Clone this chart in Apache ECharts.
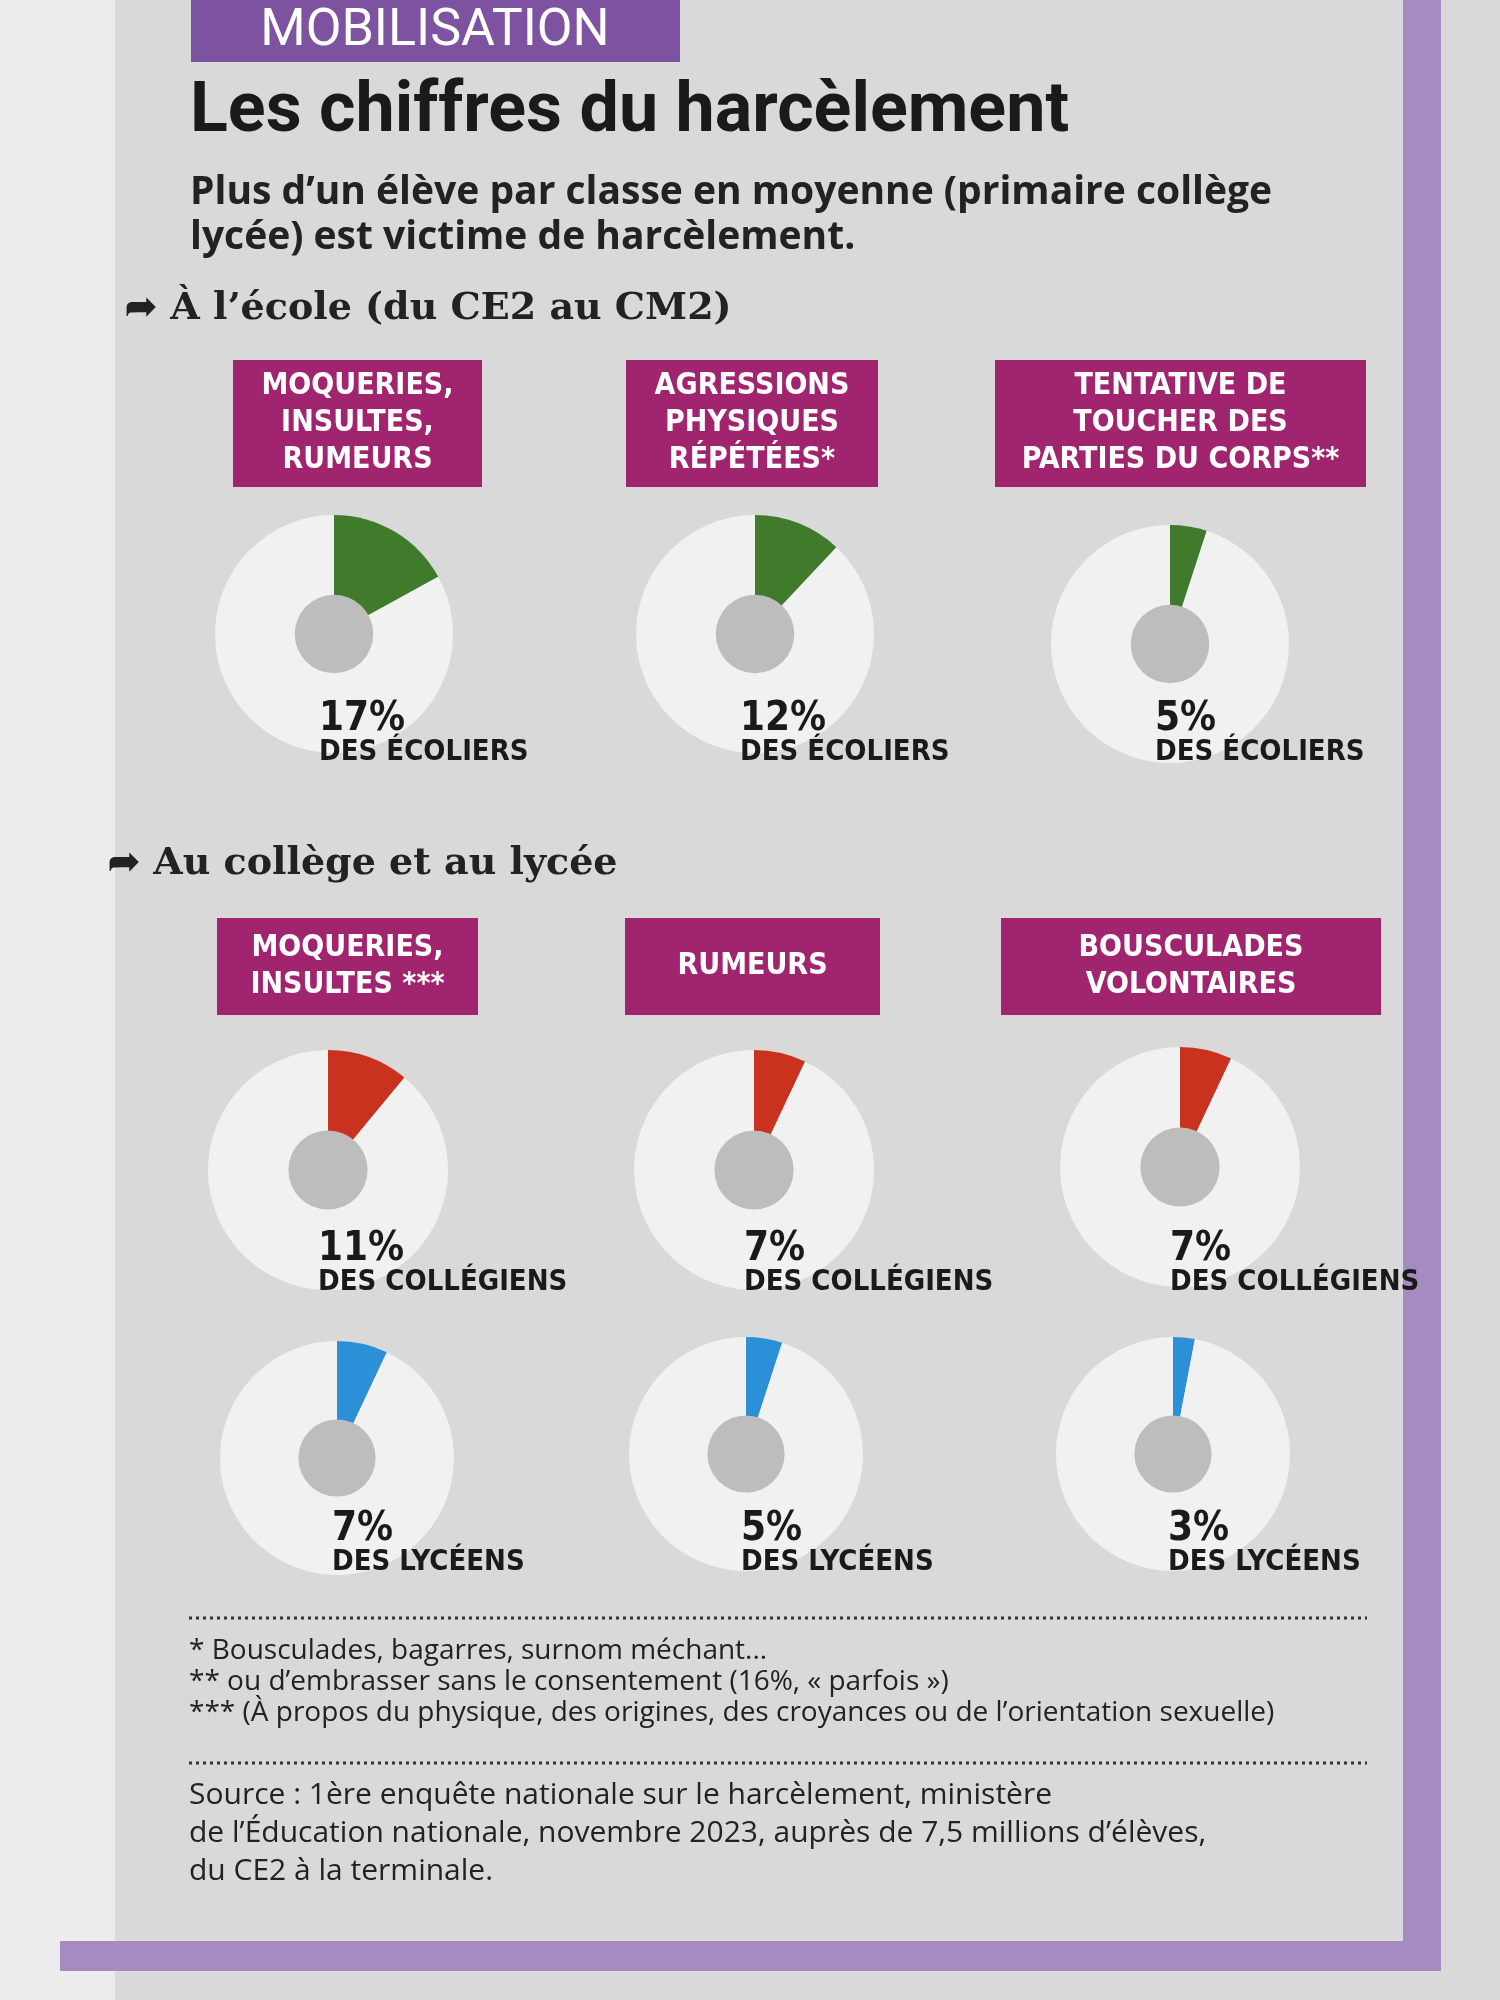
<!DOCTYPE html>
<html><head><meta charset="utf-8">
<script src="https://cdn.jsdelivr.net/npm/echarts@6/dist/echarts.min.js"></script>
<style>html,body{margin:0;padding:0;background:#d9d9d9}#c{width:1500px;height:2000px}</style>
</head><body><div id="c"></div>
<script>
const headers1 = ["MOQUERIES,\nINSULTES,\nRUMEURS", "AGRESSIONS\nPHYSIQUES\nRÉPÉTÉES*", "TENTATIVE DE\nTOUCHER DES\nPARTIES DU CORPS**"];
const headers2 = ["MOQUERIES,\nINSULTES ***", "RUMEURS", "BOUSCULADES\nVOLONTAIRES"];
const ecoliers = [17, 12, 5];
const collegiens = [11, 7, 7];
const lyceens = [7, 5, 3];

const chart = echarts.init(document.getElementById('c'));
const series = [];
const graphic = [];
function donut(cx, cy, r, val, color) {
  series.push({type:'pie', center:[cx,cy], radius:[0,r], startAngle:90, clockwise:true, silent:true, z:1,
    label:{show:false}, labelLine:{show:false},
    data:[{value:val, itemStyle:{color:color}},{value:100-val, itemStyle:{color:'#f1f1f1'}}]});
  series.push({type:'pie', center:[cx,cy], radius:[0,r*0.33], silent:true, z:1, label:{show:false},
    data:[{value:1,itemStyle:{color:'#bdbdbd'}}]});
}
function pct(x, y, v, who) {
  graphic.push({type:'text', z:100, left:x, top:y, style:{text:v+'%', font:'bold 40px "DejaVu Sans Condensed", "Roboto"', fill:'#1a1a1a'}});
  graphic.push({type:'text', z:100, left:x, top:y+38, style:{text:who, font:'bold 29px "DejaVu Sans Condensed", "Roboto"', fill:'#1a1a1a'}});
}
function box(x1, x2, y1, y2, txt) {
  graphic.push({type:'rect', shape:{x:x1,y:y1,width:x2-x1,height:y2-y1}, style:{fill:'#a1246f'}});
  graphic.push({type:'text', x:(x1+x2)/2, y:(y1+y2)/2, style:{text:txt, align:'center', verticalAlign:'middle',
    font:'bold 30px "DejaVu Sans Condensed", "Roboto"', lineHeight:37, fill:'#fff'}});
}
graphic.push({type:'rect', z:-10, shape:{x:0,y:0,width:115,height:2000}, style:{fill:'#ececec'}});
graphic.push({type:'rect', shape:{x:1403,y:0,width:38,height:1971}, style:{fill:'#a58bc1'}});
graphic.push({type:'rect', shape:{x:60,y:1941,width:1381,height:30}, style:{fill:'#a58bc1'}});
graphic.push({type:'rect', shape:{x:191,y:0,width:489,height:62}, style:{fill:'#7d52a0'}});
graphic.push({type:'text', x:435, y:32, style:{text:'MOBILISATION', align:'center', verticalAlign:'middle', font:'52px "Roboto"', fill:'#fff'}});
graphic.push({type:'text', left:190, top:78, style:{text:'Les chiffres du harcèlement', font:'bold 70px "Roboto"', fill:'#1a1a1a'}});
graphic.push({type:'text', left:190, top:170, style:{text:"Plus d’un élève par classe en moyenne (primaire collège\nlycée) est victime de harcèlement.", font:'bold 39px "Open Sans"', lineHeight:45, fill:'#222'}});
graphic.push({type:'text', left:125, top:290, style:{text:'➦ À l’école (du CE2 au CM2)', font:'bold 38px "DejaVu Serif"', fill:'#222'}});
graphic.push({type:'text', left:108, top:845, style:{text:'➦ Au collège et au lycée', font:'bold 38px "DejaVu Serif"', fill:'#222'}});

const b1 = [[233,482],[626,878],[995,1366]];
const b2 = [[217,478],[625,880],[1001,1381]];
headers1.forEach((h,i)=>box(b1[i][0], b1[i][1], 360, 487, h));
headers2.forEach((h,i)=>box(b2[i][0], b2[i][1], 918, 1015, h));

const c1 = [[334,634],[755,634],[1170,644]];
const c2 = [[328,1170],[754,1170],[1180,1167]];
const c3 = [[337,1458],[746,1454],[1173,1454]];
ecoliers.forEach((v,i)=>{donut(c1[i][0],c1[i][1],119,v,'#3f7b2b'); pct(c1[i][0]-15, 700, v, 'DES ÉCOLIERS');});
collegiens.forEach((v,i)=>{donut(c2[i][0],c2[i][1],120,v,'#c9321f'); pct(c2[i][0]-10, 1230, v, 'DES COLLÉGIENS');});
lyceens.forEach((v,i)=>{donut(c3[i][0],c3[i][1],117,v,'#2b90d8'); pct(c3[i][0]-5, 1510, v, 'DES LYCÉENS');});

graphic.push({type:'line', shape:{x1:189,y1:1618,x2:1367,y2:1618}, style:{stroke:'#333', lineWidth:3, lineDash:[3,4]}});
graphic.push({type:'text', left:189, top:1636, style:{text:"* Bousculades, bagarres, surnom méchant...\n** ou d’embrasser sans le consentement (16%, « parfois »)\n*** (À propos du physique, des origines, des croyances ou de l’orientation sexuelle)", font:'28px "Open Sans"', lineHeight:31, fill:'#222'}});
graphic.push({type:'line', shape:{x1:189,y1:1763,x2:1367,y2:1763}, style:{stroke:'#333', lineWidth:3, lineDash:[3,4]}});
graphic.push({type:'text', left:189, top:1776, style:{text:"Source : 1ère enquête nationale sur le harcèlement, ministère\nde l’Éducation nationale, novembre 2023, auprès de 7,5 millions d’élèves,\ndu CE2 à la terminale.", font:'30px "Open Sans"', lineHeight:38, fill:'#222'}});

chart.setOption({backgroundColor:'#d9d9d9', animation:false, series:series, graphic:graphic});
</script></body></html>
